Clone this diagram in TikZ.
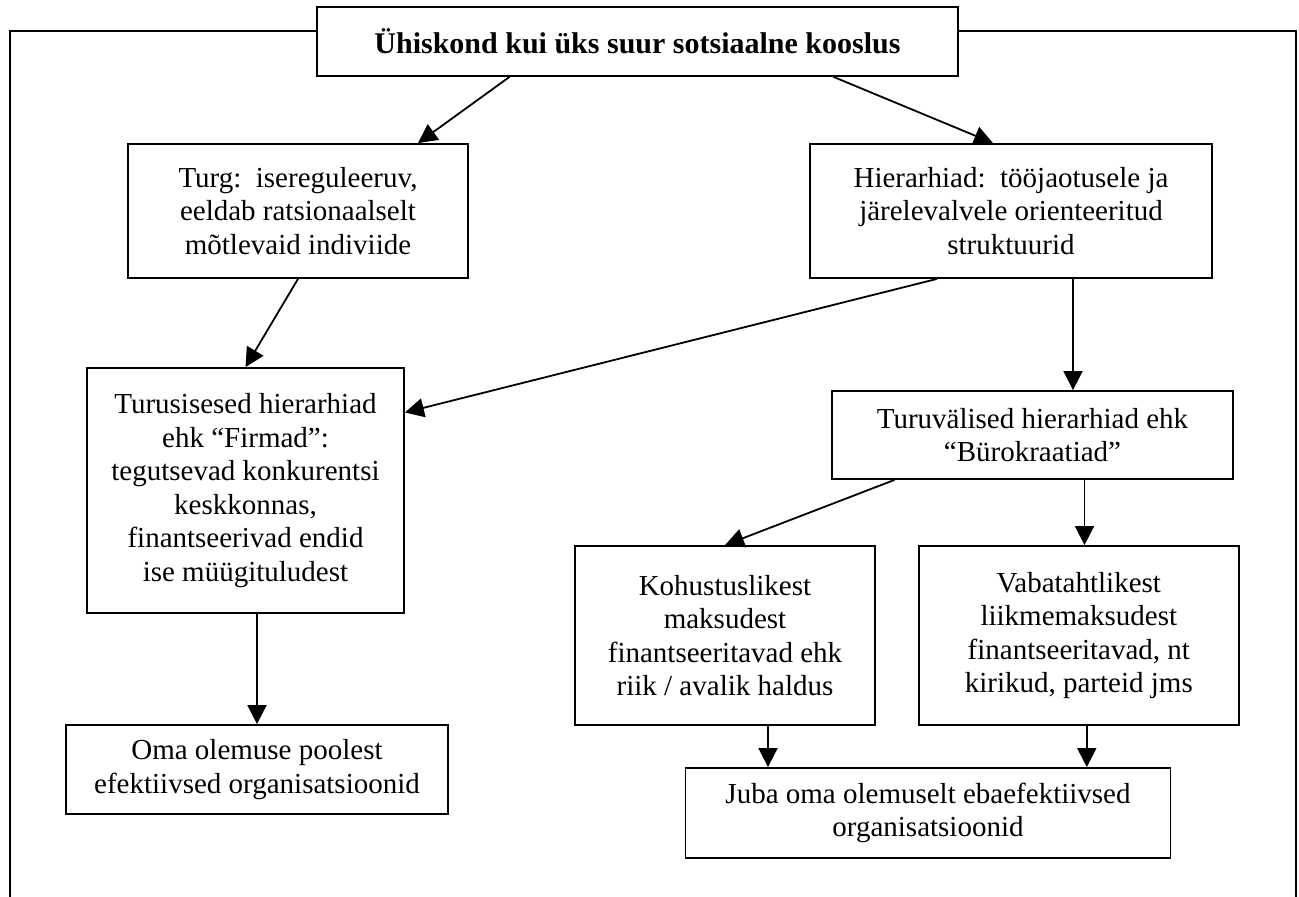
\documentclass[tikz,border=0pt]{standalone}
\usepackage{fontspec}
\setmainfont{Liberation Serif}
\usetikzlibrary{positioning,arrows.meta}

\begin{document}
\begin{tikzpicture}[
  x=0.5pt, y=-0.5pt,
  box/.style={draw, line width=0.9pt, align=center, inner sep=0pt,
              font=\fontsize{14.5}{16.8}\selectfont},
  head/.style={box, font=\fontsize{15}{18}\selectfont\bfseries},
  arr/.style={-{Triangle[length=9.5pt, width=9.5pt]}, line width=0.9pt},
  frame/.style={line width=0.9pt}]
\useasboundingbox (0,0) rectangle (1299,897);
% society as a whole
\node[head, minimum width=320.5pt, minimum height=34.5pt] (title) at (637.5,41.5)
  {Ühiskond kui üks suur sotsiaalne kooslus};
\coordinate (botl) at (10,897);
\coordinate (botr) at (1296,897);
\draw[frame] ([yshift=5.2pt]title.west) -| (botl);
\draw[frame] ([yshift=5.2pt]title.east) -| (botr);
% market and hierarchies
\node[box, minimum width=170pt, minimum height=67pt] (turg) at (298,211)
  {Turg:\ \ isereguleeruv,\\eeldab ratsionaalselt\\mõtlevaid indiviide};
\node[box, minimum width=201pt, minimum height=67pt] (hier) at (1011,211)
  {Hierarhiad:\ \ tööjaotusele ja\\järelevalvele orienteeritud\\struktuurid};
\draw[arr] ([xshift=-64pt]title.south) -- ([xshift=60pt]turg.north);
\draw[arr] ([xshift=98pt]title.south) -- ([xshift=-9pt]hier.north);
% firms
\node[box, minimum width=158.5pt, minimum height=122.5pt] (firm) at (245.5,490.5)
  {Turusisesed hierarhiad\\ehk “Firmad”:\\tegutsevad konkurentsi\\keskkonnas,\\finantseerivad endid\\ise müügituludest};
\draw[arr] (turg.south) -- (firm.north);
\draw[arr] ([xshift=-37pt]hier.south) -- ([yshift=39pt]firm.east);
% bureaucracies
\node[box, minimum width=200.5pt, minimum height=44pt] (turuv) at (1032.5,435)
  {Turuvälised hierarhiad ehk\\“Bürokraatiad”};
\draw[arr] ([xshift=31pt]hier.south) -- ([xshift=31pt]hier.south |- turuv.north);
\node[box, minimum width=150pt, minimum height=89.5pt] (koh) at (725,635.5)
  {Kohustuslikest\\maksudest\\finantseeritavad ehk\\riik / avalik haldus};
\node[box, minimum width=160pt, minimum height=89.5pt, right=21pt of koh] (vab)
  {Vabatahtlikest\\liikmemaksudest\\finantseeritavad, nt\\kirikud, parteid jms};
\draw[arr] ([xshift=-69pt]turuv.south) -- (koh.north);
\draw[arr] ([xshift=26pt]turuv.south) -- ([xshift=26pt]turuv.south |- vab.north);
% outcomes
\node[box, minimum width=191pt, minimum height=44.5pt] (oma) at (257,769.5)
  {Oma olemuse poolest\\efektiivsed organisatsioonid};
\node[box, minimum width=242.5pt, minimum height=45pt] (juba) at (928,813)
  {Juba oma olemuselt ebaefektiivsed\\organisatsioonid};
\draw[arr] (oma.north |- firm.south) -- (oma.north);
\draw[arr] ([xshift=21.5pt]koh.south) -- ([xshift=21.5pt]koh.south |- juba.north);
\draw[arr] ([xshift=4pt]vab.south) -- ([xshift=4pt]vab.south |- juba.north);
\end{tikzpicture}
\end{document}
